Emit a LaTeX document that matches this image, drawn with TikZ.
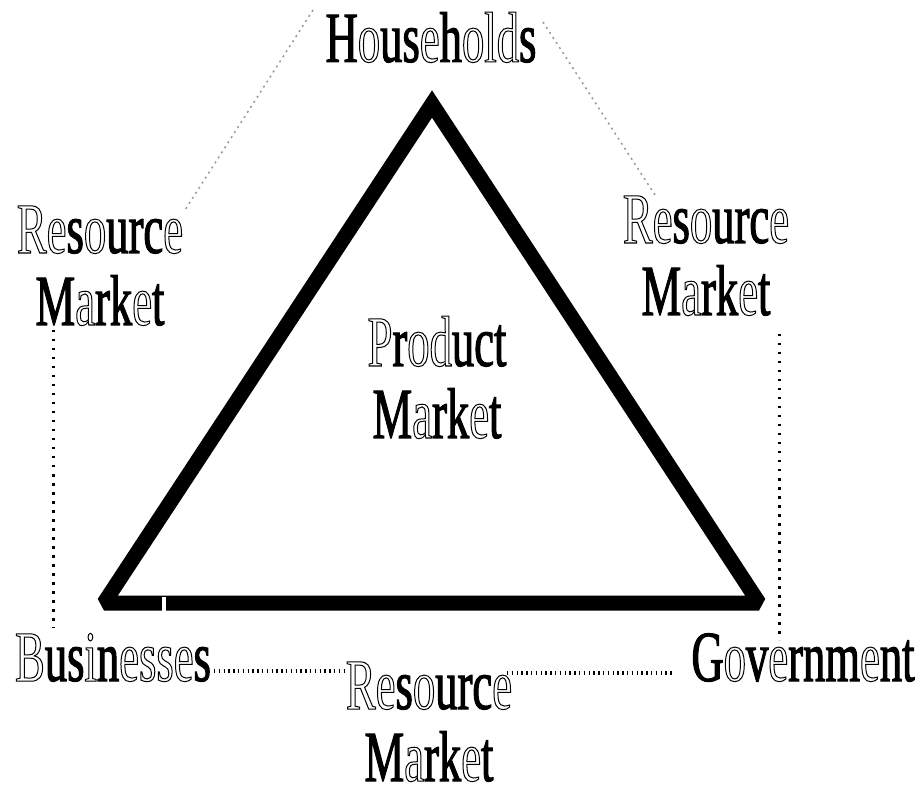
\documentclass[tikz,border=0pt]{standalone}
\usepackage{fontspec}
\setmainfont{Liberation Serif}[FakeStretch=0.62]
% fill+stroke for solid glyphs, stroke only for hollow glyphs
\newcommand\solid[1]{\special{pdf:literal direct 2 Tr 1 w}#1\special{pdf:literal direct 0 Tr}}
\newcommand\olt[1]{\special{pdf:literal direct 1 Tr 1 w}#1\special{pdf:literal direct 2 Tr 1 w}}
\tikzset{
  lbl/.style={anchor=base, inner sep=0pt, align=center,
    font=\fontsize{72}{72}\selectfont},
  tri/.style={line width=15pt, line join=miter, miter limit=2},
  graydots/.style={draw=black!40, line width=1.5pt, dash pattern=on 2pt off 4pt},
  vdots/.style={draw=black, line width=3pt, dash pattern=on 2.5pt off 6.5pt},
  hdots/.style={draw=black, line width=4pt, dash pattern=on 1.3pt off 3.5pt},
}
\begin{document}
\begin{tikzpicture}[x=1pt,y=-1pt]
\useasboundingbox[fill=white] (0,0) rectangle (924,791);
% triangle
\coordinate (A) at (432,104);
\coordinate (B) at (104,603);
\coordinate (C) at (759,603);
\draw[tri] (B) -- (A) -- (C) -- cycle;
\fill[white] (162,597) rectangle (166,611);
% labels (base anchor = baseline of the last line)
\node[lbl] (hh) at (431,62) {\solid{H\olt{o}us\olt{e}h\olt{old}s}};
\node[lbl] (lr) at (100,325) {\solid{\olt{Re}s\olt{o}urc\olt{e}}\\\solid{M\olt{a}rk\olt{e}t}};
\node[lbl] (rr) at (706,315) {\solid{\olt{Re}s\olt{o}urc\olt{e}}\\\solid{M\olt{a}rk\olt{e}t}};
\node[lbl] (pm) at (437,438) {\solid{\olt{P}r\olt{od}uct}\\\solid{M\olt{a}rk\olt{e}t}};
\node[lbl] (bus) at (113,681) {\solid{\olt{B}us\olt{i}n\olt{esse}s}};
\node[lbl] (gov) at (803,681) {\solid{G\olt{o}v\olt{e}rnm\olt{e}nt}};
\node[lbl, text depth=0pt] (br) at (429,781) {\solid{\olt{Re}s\olt{o}urc\olt{e}}\\\solid{M\olt{a}rk\olt{e}t}};
% connector end points
\coordinate (g1) at (313,10);
\coordinate (g2) at (185,210);
\coordinate (g3) at (543,22);
\coordinate (g4) at (655,195);
\coordinate (v1) at (53,330);
\coordinate (v2) at (53,628);
\coordinate (v3) at (779,334);
\coordinate (v4) at (779,640);
\coordinate (h1) at (214,671);
\coordinate (h2) at (345,671);
\coordinate (h3) at (507,673);
\coordinate (h4) at (674,673);
\draw[graydots] (g1) -- (g2);
\draw[graydots] (g3) -- (g4);
\draw[vdots] (v1) -- (v2);
\draw[vdots] (v3) -- (v4);
\draw[hdots] (h1) -- (h2);
\draw[hdots] (h3) -- (h4);
\end{tikzpicture}
\end{document}
